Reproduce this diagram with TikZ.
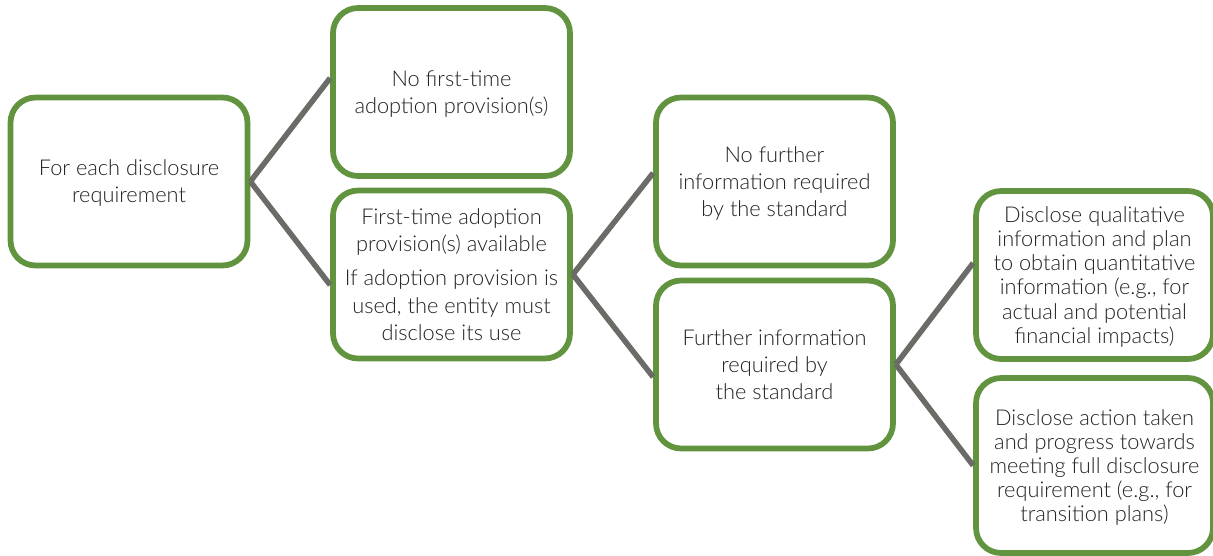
\documentclass[tikz,border=0pt]{standalone}
\usepackage{fontspec}
\setmainfont{Lato}[UprightFont={* Light}]
\usetikzlibrary{positioning}

\definecolor{boxgreen}{HTML}{62933F}
\definecolor{linkgrey}{HTML}{6B6B67}
\definecolor{textgrey}{HTML}{222222}

\tikzset{
    stage/.style={draw=boxgreen, line width=1.15mm, rounded corners=0.5cm, fill=white,
        minimum width=4.74cm, minimum height=3.36cm, align=center, text=textgrey,
        font=\fontsize{12.4}{15.4}\selectfont, text depth=-8pt},
    tight/.style={font=\fontsize{12.4}{13.7}\selectfont},
    link/.style={draw=linkgrey, line width=1.1mm}
}

\begin{document}
\begin{tikzpicture}[x=0.02cm, y=-0.02cm]
            \useasboundingbox (0,0) rectangle (1213,555);

            % first choice
            \node[stage] (each) at (129,181.5) {For each disclosure\\requirement};
            \node[stage] (noprov) at (451.5,92) {No first-time\\adoption provision(s)};
            \node[stage] (prov) at (451.5,274.5) {First-time adoption\\provision(s) available\\[4pt]
                If adoption provision is\\used, the entity must\\disclose its use};

            % second choice
            \node[stage] (nofurther) at (774.5,181.5) {No further\\information required\\by the standard};
            \node[stage] (further) at (774.5,364.5) {Further information\\required by\\the standard};

            % what has to be disclosed
            \node[stage, tight] (qual) at (1094.5,275) {Disclose qualitative\\information and plan\\to obtain quantitative\\information (e.g., for\\actual and potential\\financial impacts)};
            \node[stage, tight, minimum height=3.5cm, text depth=-18pt] (action) at (1094.5,465.5) {Disclose action taken\\and progress towards\\meeting full disclosure\\requirement (e.g., for\\transition plans)};

            \draw[link] (each.east) -- ([yshift=0.28cm]noprov.west);
            \draw[link] (each.east) -- ([yshift=-0.21cm]prov.west);
            \draw[link] (prov.east) -- ([yshift=0.17cm]nofurther.west);
            \draw[link] (prov.east) -- ([yshift=-0.25cm]further.west);
            \draw[link] (further.east) -- ([yshift=0.24cm]qual.west);
            \draw[link] (further.east) -- (action.west);
        \end{tikzpicture}
\end{document}
